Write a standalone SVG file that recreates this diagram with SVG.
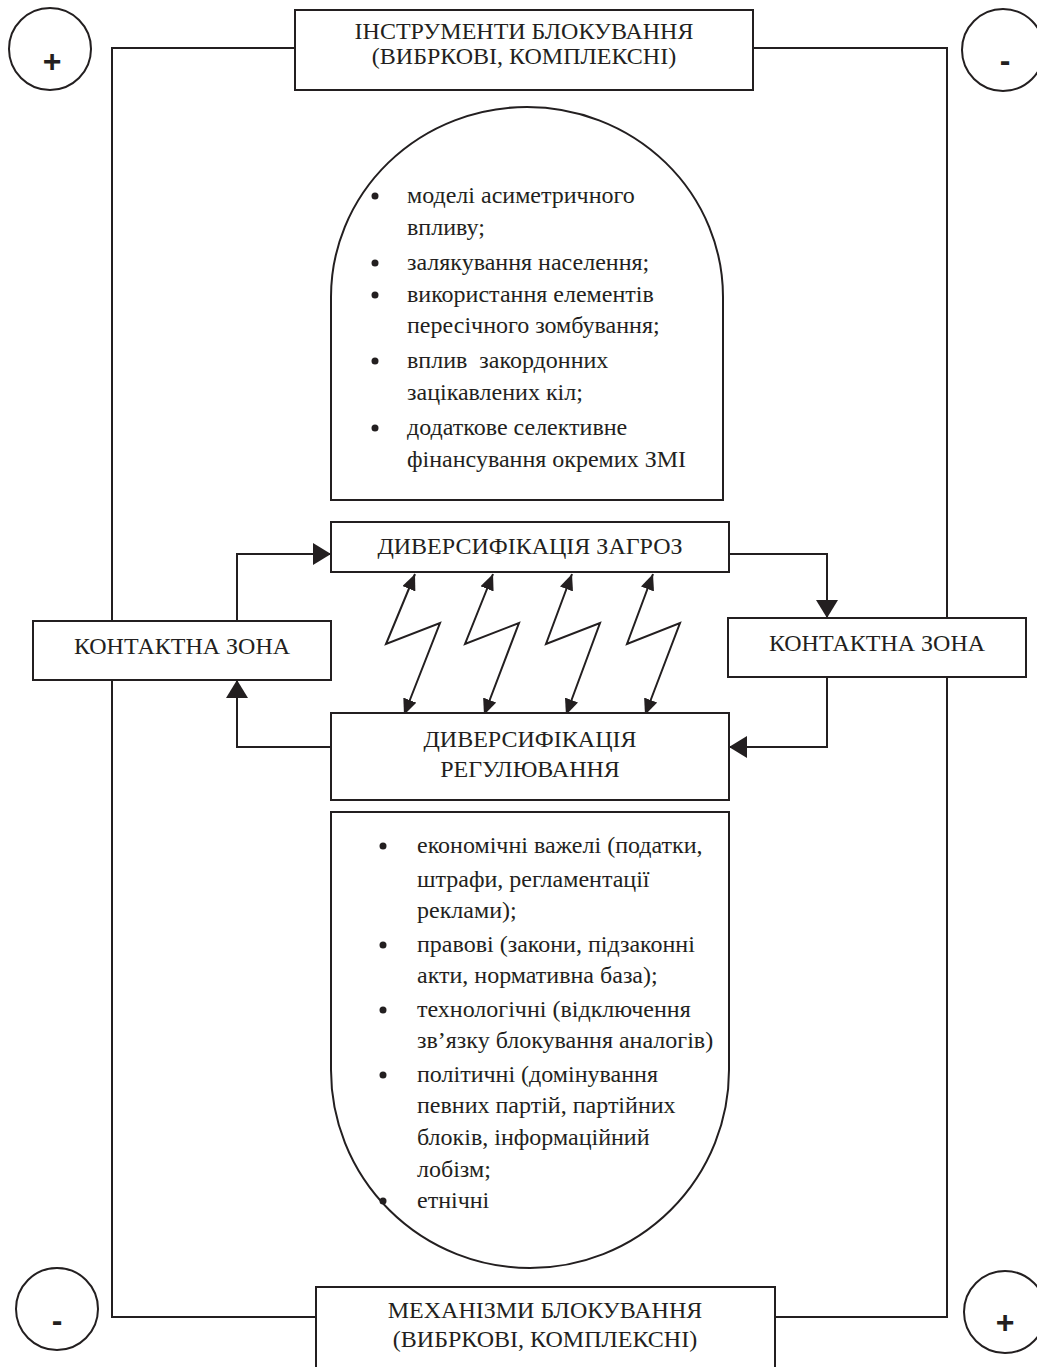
<svg xmlns="http://www.w3.org/2000/svg" width="1037" height="1367" viewBox="0 0 1037 1367">
<style>
.ln{fill:none;stroke:#231f20;stroke-width:2}
.bx{fill:#fff;stroke:#231f20;stroke-width:2}
.t{font-family:"Liberation Serif","Times New Roman",serif;font-size:24px;fill:#231f20}
.c{text-anchor:middle}
.s{font-family:"Liberation Sans",Arial,sans-serif;font-weight:bold;font-size:32px;fill:#231f20;text-anchor:middle}
.b{fill:#231f20}
</style>
<defs>
<marker id="ah" markerUnits="userSpaceOnUse" markerWidth="18" markerHeight="22" viewBox="0 0 18 22" refX="18" refY="11" orient="auto-start-reverse"><path d="M0,0 L18,11 L0,22 Z" fill="#231f20"/></marker>
<marker id="az" markerUnits="userSpaceOnUse" markerWidth="16" markerHeight="14" viewBox="0 0 16 14" refX="16" refY="7" orient="auto-start-reverse"><path d="M0,0 L16,7 L0,14 Z" fill="#231f20"/></marker>
</defs>

<g id="connectors">
<path class="ln" d="M295,48 H112 V1317 H316"/>
<path class="ln" d="M753,48 H947 V1317 H775"/>
<path class="ln" d="M237,621 V554 H331" marker-end="url(#ah)"/>
<path class="ln" d="M331,747 H237 V680" marker-end="url(#ah)"/>
<path class="ln" d="M729,554 H827 V618" marker-end="url(#ah)"/>
<path class="ln" d="M827,677 V747 H729" marker-end="url(#ah)"/>
<path class="ln" d="M415,574 L386,644 L440,623 L404,715" marker-start="url(#az)" marker-end="url(#az)"/>
<path class="ln" d="M493,574 L465,644 L519,623 L484,715" marker-start="url(#az)" marker-end="url(#az)"/>
<path class="ln" d="M572,574 L546,644 L600,623 L566,715" marker-start="url(#az)" marker-end="url(#az)"/>
<path class="ln" d="M653,574 L627,644 L680,623 L645,715" marker-start="url(#az)" marker-end="url(#az)"/>
</g>

<g id="sign-tl"><circle class="ln" cx="50" cy="49" r="41"/><text class="s" x="52" y="72">+</text></g>
<g id="sign-tr"><circle class="ln" cx="1003" cy="50" r="41"/><text class="s" x="1005" y="71">-</text></g>
<g id="sign-bl"><circle class="ln" cx="57" cy="1309" r="41"/><text class="s" x="57" y="1331">-</text></g>
<g id="sign-br"><circle class="ln" cx="1005" cy="1312" r="41"/><text class="s" x="1005" y="1333">+</text></g>

<g id="instruments">
<rect class="bx" x="295" y="10" width="458" height="80"/>
<text class="t c" x="524" y="39">ІНСТРУМЕНТИ БЛОКУВАННЯ</text>
<text class="t c" x="524" y="64">(ВИБРКОВІ, КОМПЛЕКСНІ)</text>
</g>

<g id="threats-list">
<path class="bx" d="M331,500 V297 A196,190 0 0 1 527,107 A196,190 0 0 1 723,297 V500 Z"/>
<g class="t">
<circle class="b" cx="375" cy="196" r="3.5"/><text x="407" y="203">моделі асиметричного</text>
<text x="407" y="235">впливу;</text>
<circle class="b" cx="375" cy="263" r="3.5"/><text x="407" y="270">залякування населення;</text>
<circle class="b" cx="375" cy="295" r="3.5"/><text x="407" y="302">використання елементів</text>
<text x="407" y="333">пересічного зомбування;</text>
<circle class="b" cx="375" cy="361" r="3.5"/><text x="407" y="368" xml:space="preserve">вплив  закордонних</text>
<text x="407" y="400">зацікавлених кіл;</text>
<circle class="b" cx="375" cy="428" r="3.5"/><text x="407" y="435">додаткове селективне</text>
<text x="407" y="467">фінансування окремих ЗМІ</text>
</g>
</g>

<g id="threats">
<rect class="bx" x="331" y="522" width="398" height="50"/>
<text class="t c" x="530" y="554">ДИВЕРСИФІКАЦІЯ ЗАГРОЗ</text>
</g>

<g id="contact-left">
<rect class="bx" x="33" y="621" width="298" height="59"/>
<text class="t c" x="182" y="654">КОНТАКТНА ЗОНА</text>
</g>

<g id="contact-right">
<rect class="bx" x="728" y="618" width="298" height="59"/>
<text class="t c" x="877" y="651">КОНТАКТНА ЗОНА</text>
</g>

<g id="regulation">
<rect class="bx" x="331" y="713" width="398" height="87"/>
<text class="t c" x="530" y="747">ДИВЕРСИФІКАЦІЯ</text>
<text class="t c" x="530" y="777">РЕГУЛЮВАННЯ</text>
</g>

<g id="regulation-list">
<path class="bx" d="M331,812 H729 V1070 A199,198 0 0 1 530,1268 A199,198 0 0 1 331,1070 Z"/>
<g class="t">
<circle class="b" cx="383" cy="846" r="3.5"/><text x="417" y="853">економічні важелі (податки,</text>
<text x="417" y="887">штрафи, регламентації</text>
<text x="417" y="918">реклами);</text>
<circle class="b" cx="383" cy="945" r="3.5"/><text x="417" y="952">правові (закони, підзаконні</text>
<text x="417" y="983">акти, нормативна база);</text>
<circle class="b" cx="383" cy="1010" r="3.5"/><text x="417" y="1017">технологічні (відключення</text>
<text x="417" y="1048">зв’язку блокування аналогів)</text>
<circle class="b" cx="383" cy="1075" r="3.5"/><text x="417" y="1082">політичні (домінування</text>
<text x="417" y="1113">певних партій, партійних</text>
<text x="417" y="1145">блоків, інформаційний</text>
<text x="417" y="1177">лобізм;</text>
<circle class="b" cx="383" cy="1201" r="3.5"/><text x="417" y="1208">етнічні</text>
</g>
</g>

<g id="mechanisms">
<rect class="bx" x="316" y="1287" width="459" height="90"/>
<text class="t c" x="545" y="1318">МЕХАНІЗМИ БЛОКУВАННЯ</text>
<text class="t c" x="545" y="1347">(ВИБРКОВІ, КОМПЛЕКСНІ)</text>
</g>
</svg>
